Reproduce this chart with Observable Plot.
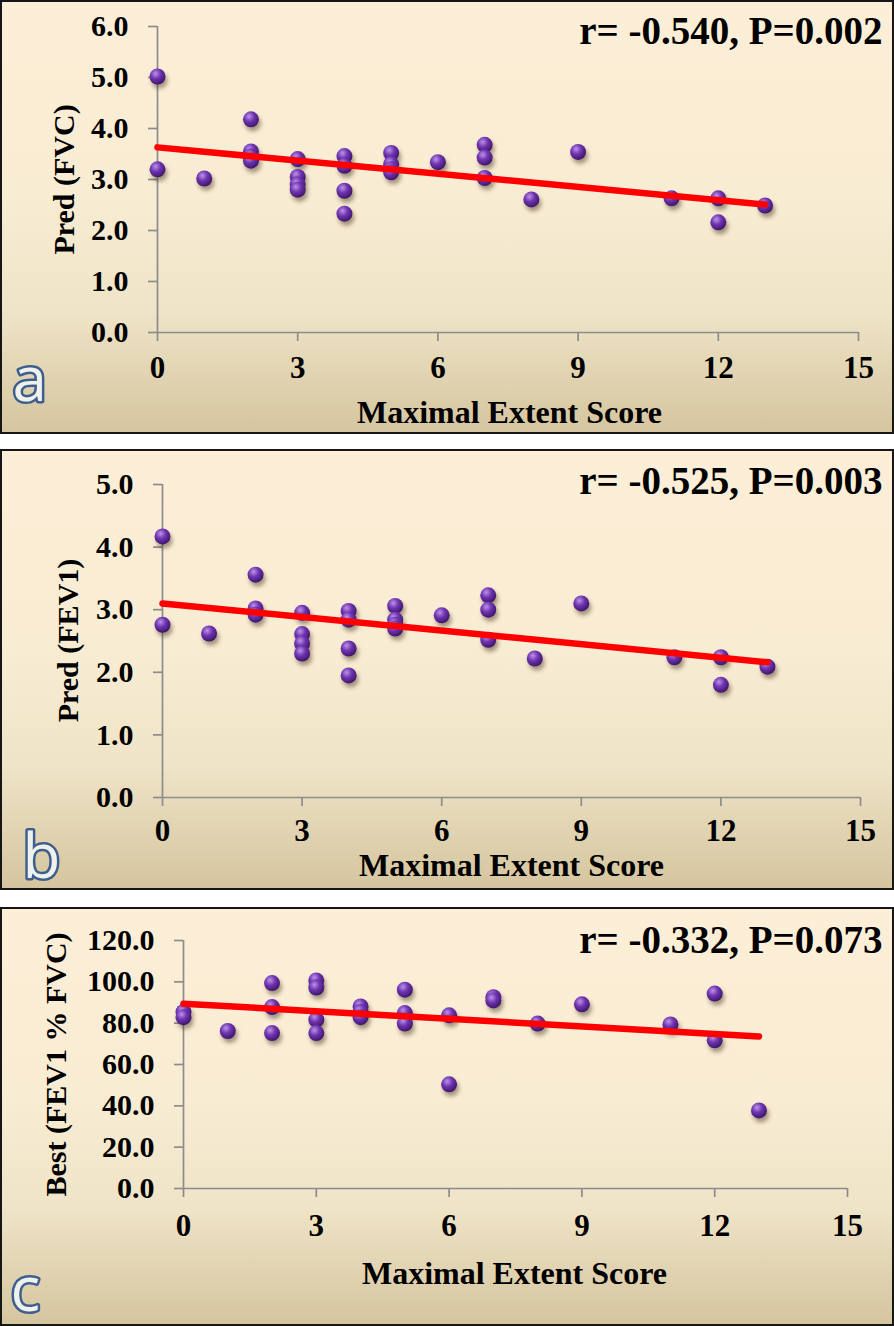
<!DOCTYPE html>
<html><head><meta charset="utf-8">
<script src="https://cdn.jsdelivr.net/npm/d3@7"></script>
<script src="https://cdn.jsdelivr.net/npm/@observablehq/plot@0.6"></script>
<style>
body{margin:0;background:#fff;width:894px;height:1326px;position:relative;overflow:hidden}
.panel{position:absolute;left:0;width:894px;box-sizing:border-box;border:2px solid #161616;
background:linear-gradient(to bottom,#fdefd7 0%,#f8ecd3 45%,#efe4c7 72%,#d5c59f 100%)}
.panel svg{display:block;background:transparent!important}
</style></head><body>
<div id="pa" class="panel" style="top:0;height:434px"></div>
<div id="pb" class="panel" style="top:449px;height:441px"></div>
<div id="pc" class="panel" style="top:907px;height:419px"></div>
<script>
// ---- data ----
const xTicks = [0, 3, 6, 9, 12, 15];
const fitX = [0, 13];

const xFVC = [0,0,1,2,2,2,2,3,3,3,3,4,4,4,4,5,5,5,5,6,7,7,7,8,9,11,12,12,13];
const yFVC = [5.02,3.2,3.02,4.18,3.55,3.45,3.37,3.4,3.05,2.9,2.8,3.46,3.27,2.78,2.33,3.52,3.3,3.2,3.14,3.34,3.68,3.43,3.03,2.61,3.54,2.63,2.63,2.16,2.49];
const fitFVC = [3.63, 2.51];
const ticksFVC = [0,1,2,3,4,5,6];

const xFEV1 = [0,0,1,2,2,2,3,3,3,3,4,4,4,4,5,5,5,5,6,7,7,7,8,9,11,12,12,13];
const yFEV1 = [4.17,2.76,2.62,3.56,3.02,2.92,2.95,2.61,2.46,2.30,2.98,2.84,2.38,1.95,3.06,2.84,2.76,2.70,2.91,3.23,3.0,2.52,2.22,3.10,2.24,2.24,1.80,2.09];
const fitFEV1 = [3.10, 2.16];
const ticksFEV1 = [0,1,2,3,4,5];

const xRatio = [0,0,1,2,2,2,3,3,3,3,4,4,4,5,5,5,6,6,7,7,8,9,11,12,12,13];
const yRatio = [85.4,82.9,76.2,99.4,87.8,75.2,100.7,97.2,81.7,75.2,88.1,85.4,82.9,96.2,84.9,79.8,83.8,50.4,92.6,91.0,79.8,89.1,79.4,94.3,71.7,37.8];
const fitRatio = [89.4, 73.6];
const ticksRatio = [0,20,40,60,80,100,120];

const xLabel = "Maximal Extent Score";

// ---- drawing ----
const panels = [
  {id:"pa", h:430, ml:155, mr:34, mt:24, mb:100, xs:xFVC, ys:yFVC, fit:fitFVC, yTicks:ticksFVC, pad:14,
   ylab:"Pred (FVC)", ann:"r= -0.540, P=0.002", letter:"a",
   annPos:[880,41], ylabPos:[62,177], xlabPos:[507,410], letPos:[10,398]},
  {id:"pb", h:437, ml:160, mr:32, mt:33, mb:91, xs:xFEV1, ys:yFEV1, fit:fitFEV1, yTicks:ticksFEV1, pad:12,
   ylab:"Pred (FEV1)", ann:"r= -0.525, P=0.003", letter:"b",
   annPos:[880,42], ylabPos:[66,189], xlabPos:[509,414], letPos:[20,426]},
  {id:"pc", h:415, ml:181, mr:45, mt:31, mb:136, xs:xRatio, ys:yRatio, fit:fitRatio, yTicks:ticksRatio, pad:16,
   ylab:"Best (FEV1 % FVC)", ann:"r= -0.332, P=0.073", letter:"c",
   annPos:[880,43], ylabPos:[54,155], xlabPos:[512,364], letPos:[8,401]}
];

const axisGray = "#8c8c8c";
for (const p of panels) {
  const pts = p.xs.map((x, i) => ({x, y: p.ys[i]}));
  const fit = fitX.map((x, i) => ({x, y: p.fit[i]}));
  const at = (px, py) => ({frameAnchor: "top-left", dx: px - p.ml, dy: py - p.mt});
  const yDomain = [p.yTicks[0], p.yTicks[p.yTicks.length - 1]];
  const svg = Plot.plot({
    width: 890, height: p.h,
    marginLeft: p.ml, marginRight: p.mr, marginTop: p.mt, marginBottom: p.mb,
    x: {domain: [0, 15], axis: null},
    y: {domain: yDomain, axis: null},
    style: {fontFamily: "'Liberation Serif','Times New Roman',serif", fontWeight: "bold", background: "transparent", overflow: "visible", color: "#000"},
    marks: [
      Plot.ruleY([yDomain[0]], {stroke: axisGray, strokeWidth: 1.7}),
      Plot.ruleX([0], {stroke: axisGray, strokeWidth: 1.7}),
      Plot.axisX({ticks: xTicks, tickSize: 9, tickPadding: p.pad, fontSize: 31, stroke: axisGray, strokeWidth: 1.7, color: "#000", label: null, tickFormat: d => String(d)}),
      Plot.axisY({ticks: p.yTicks, tickSize: 9, tickPadding: 20, fontSize: 30, stroke: axisGray, strokeWidth: 1.7, color: "#000", label: null, tickFormat: d3.format(".1f")}),
      Plot.dot(pts, {x: "x", y: "y", r: 8, fill: "url(#sph)"}),
      Plot.line(fit, {x: "x", y: "y", stroke: "#ff0000", strokeWidth: 6.5, strokeLinecap: "round"}),
      Plot.text([p.ann], {...at(...p.annPos), text: d => d, textAnchor: "end", lineAnchor: "bottom", fontSize: 39, fill: "#000"}),
      Plot.text([p.ylab], {...at(...p.ylabPos), text: d => d, rotate: -90, textAnchor: "middle", lineAnchor: "middle", fontSize: 30, fill: "#000"}),
      Plot.text([xLabel], {...at(...p.xlabPos), text: d => d, textAnchor: "middle", lineAnchor: "middle", fontSize: 32, fill: "#000"}),
      Plot.text([p.letter], {...at(...p.letPos), text: d => d, textAnchor: "start", lineAnchor: "bottom", fontSize: 62,
        fontFamily: "'Open Sans','Noto Sans',sans-serif", fontWeight: "normal", fill: "#eef1ec", stroke: "#3e5f8e", strokeWidth: 5})
    ]
  });
  const NS = "http://www.w3.org/2000/svg";
  const defs = document.createElementNS(NS, "defs");
  const g = document.createElementNS(NS, "radialGradient");
  g.setAttribute("id", "sph"); g.setAttribute("cx", "0.38"); g.setAttribute("cy", "0.32"); g.setAttribute("r", "0.72");
  [["0", "#b994e8"], ["0.45", "#7034b0"], ["1", "#3a1366"]].forEach(([o, c]) => {
    const s = document.createElementNS(NS, "stop");
    s.setAttribute("offset", o); s.setAttribute("stop-color", c); g.appendChild(s);
  });
  defs.appendChild(g);
  svg.insertBefore(defs, svg.firstChild);
  svg.querySelectorAll('g[aria-label="dot"]').forEach(el => el.style.filter = "drop-shadow(2px 4px 2px rgba(60,40,20,0.45))");
  document.getElementById(p.id).appendChild(svg);
}
</script>
</body></html>
